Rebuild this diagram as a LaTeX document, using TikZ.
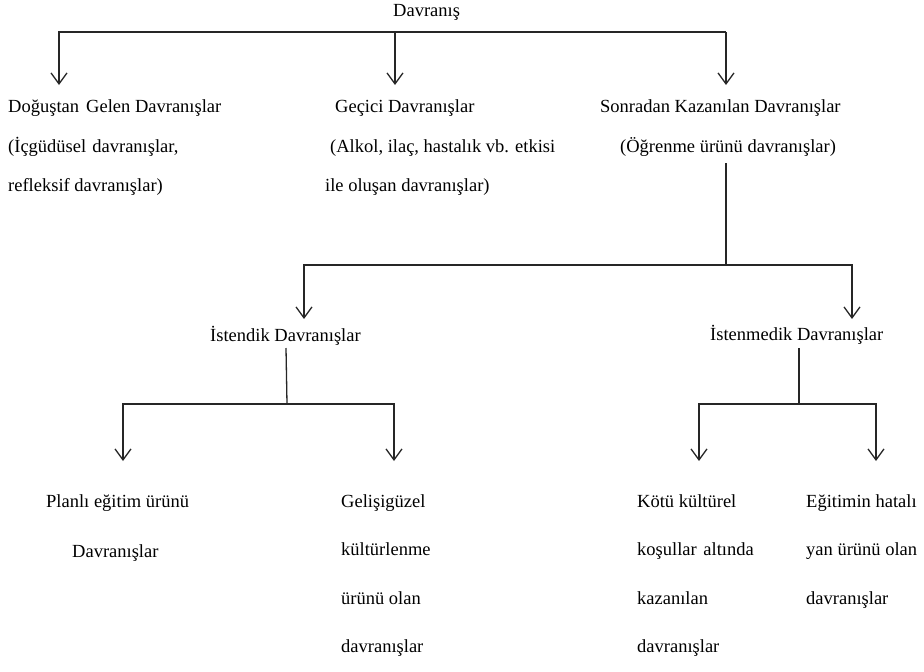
\documentclass[tikz,border=0pt]{standalone}
\usepackage{fontspec}
\setmainfont{Liberation Serif}
\usetikzlibrary{arrows.meta}
\begin{document}
\begin{tikzpicture}[x=1pt,y=-1pt,
  lbl/.style={anchor=base west,inner sep=0pt,font=\fontsize{18.5}{22}\selectfont},
  link/.style={draw=black!85,line width=1.3pt,line join=miter},
  arr/.style={link,-{Straight Barb[length=11pt,width=16pt]}}]
\useasboundingbox (0,0) rectangle (924,672);

% root
\node[lbl] (root) at (393,16) {Davranış};

% first level
\node[lbl] (dg1) at (8,112) {Doğuştan\hspace{2.5pt} Gelen Davranışlar};
\node[lbl] (dg2) at (8,152) {(İçgüdüsel\hspace{1.5pt} davranışlar,};
\node[lbl] (dg3) at (8,191) {refleksif davranışlar)};
\node[lbl] (gc1) at (335,112) {Geçici Davranışlar};
\node[lbl] (gc2) at (330,152) {(Alkol, ilaç, hastalık vb. etkisi};
\node[lbl] (gc3) at (325,191) {ile oluşan davranışlar)};
\node[lbl] (sk1) at (600,112) {Sonradan Kazanılan Davranışlar};
\node[lbl] (sk2) at (620,152) {(Öğrenme ürünü davranışlar)};

% second level
\node[lbl] (ist) at (210,341) {İstendik Davranışlar};
\node[lbl] (ism) at (710,340) {İstenmedik Davranışlar};

% third level
\node[lbl] (p1) at (46,507) {Planlı eğitim ürünü};
\node[lbl] (p2) at (72,557) {Davranışlar};
\node[lbl] (g1) at (341,507) {Gelişigüzel};
\node[lbl] (g2) at (341,555) {kültürlenme};
\node[lbl] (g3) at (341,604) {ürünü olan};
\node[lbl] (g4) at (341,652) {davranışlar};
\node[lbl] (k1) at (637,507) {Kötü kültürel};
\node[lbl] (k2) at (637,555) {koşullar\hspace{2pt} altında};
\node[lbl] (k3) at (637,604) {kazanılan};
\node[lbl] (k4) at (637,652) {davranışlar};
\node[lbl] (e1) at (806,507) {Eğitimin hatalı};
\node[lbl] (e2) at (806,555) {yan ürünü olan};
\node[lbl] (e3) at (806,604) {davranışlar};

% connector points
\coordinate (busL) at (59,32);
\coordinate (busM) at (395,32);
\coordinate (busR) at (726,32);
\coordinate (tipA) at (59,85);
\coordinate (tipB) at (395,85);
\coordinate (tipC) at (726,85);

\coordinate (skStem) at (726,163);
\coordinate (bus2M) at (726,265);
\coordinate (bus2L) at (304,265);
\coordinate (bus2R) at (852,265);
\coordinate (tipIst) at (304,319);
\coordinate (tipIsm) at (852,319);

\coordinate (istStem) at (286,348);
\coordinate (bus3M) at (287,404);
\coordinate (bus3L) at (123,404);
\coordinate (bus3R) at (394,404);
\coordinate (tipP) at (123,461);
\coordinate (tipG) at (394,461);

\coordinate (ismStem) at (799,348);
\coordinate (bus4M) at (799,404);
\coordinate (bus4L) at (699,404);
\coordinate (bus4R) at (876,404);
\coordinate (tipK) at (699,461);
\coordinate (tipE) at (876,461);

% top bus
\draw[arr] (busR) -- (busL) -- (tipA);
\draw[arr] (busM) -- (tipB);
\draw[arr] (busR) -- (tipC);

% learned behaviours split
\draw[link] (skStem) -- (bus2M);
\draw[arr] (bus2M) -- (bus2L) -- (tipIst);
\draw[arr] (bus2M) -- (bus2R) -- (tipIsm);

% intended behaviours split
\draw[link] (istStem) -- (bus3M);
\draw[arr] (bus3M) -- (bus3L) -- (tipP);
\draw[arr] (bus3M) -- (bus3R) -- (tipG);

% unintended behaviours split
\draw[link] (ismStem) -- (bus4M);
\draw[arr] (bus4M) -- (bus4L) -- (tipK);
\draw[arr] (bus4M) -- (bus4R) -- (tipE);
\end{tikzpicture}
\end{document}
